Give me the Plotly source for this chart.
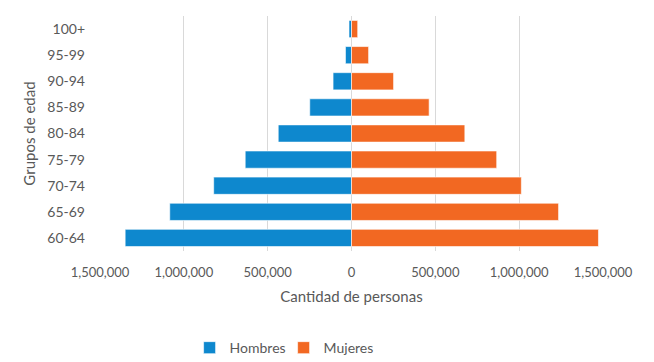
import plotly.graph_objects as go

age_groups = ["60-64", "65-69", "70-74", "75-79", "80-84", "85-89", "90-94", "95-99", "100+"]
hombres = [1350000, 1084000, 822000, 634000, 437000, 249000, 110000, 36000, 15000]
mujeres = [1473000, 1235000, 1013000, 866000, 676000, 463000, 251000, 102000, 37000]
tick_values = [-1500000, -1000000, -500000, 0, 500000, 1000000, 1500000]
tick_labels = ["1,500,000", "1,000,000", "500,000", "0", "500,000", "1,000,000", "1,500,000"]

font_family = "Lato, 'Open Sans', sans-serif"

fig = go.Figure()
fig.add_trace(go.Bar(
    y=age_groups, x=[-v for v in hombres], name="Hombres", orientation="h",
    marker=dict(color="#0E88CE", line=dict(color="rgba(255,255,255,0.6)", width=1)),
))
fig.add_trace(go.Bar(
    y=age_groups, x=mujeres, name="Mujeres", orientation="h",
    marker=dict(color="#F26822", line=dict(color="rgba(255,255,255,0.6)", width=1)),
))

fig.update_layout(
    width=646, height=354,
    barmode="relative",
    bargap=0.34,
    paper_bgcolor="white", plot_bgcolor="white",
    margin=dict(l=92, r=50.5, t=8, b=111, autoexpand=False),
    font=dict(family=font_family, color="#595959", size=14),
    showlegend=True,
    legend=dict(orientation="h", x=0.365, xanchor="center", y=-0.413, yanchor="middle",
                font=dict(size=14, color="#595959"), itemwidth=30, traceorder="normal",
                entrywidth=49),
    xaxis=dict(
        range=[-1500000, 1500000], tickvals=tick_values, ticktext=tick_labels,
        showgrid=True, gridcolor="#D9D9D9", gridwidth=1,
        zeroline=True, zerolinecolor="#D9D9D9", zerolinewidth=1,
        ticks="", ticklabelstandoff=12, automargin=False,
        tickfont=dict(size=13),
        title=dict(text="Cantidad de personas", font=dict(size=15, color="#595959"), standoff=12),
    ),
    yaxis=dict(
        categoryorder="array", categoryarray=age_groups,
        showgrid=False, ticks="", ticklabelstandoff=14, automargin=False,
        tickfont=dict(size=14),
        title=dict(text="Grupos de edad", font=dict(size=15, color="#595959"), standoff=8),
    ),
)

fig.write_html("out.html")
